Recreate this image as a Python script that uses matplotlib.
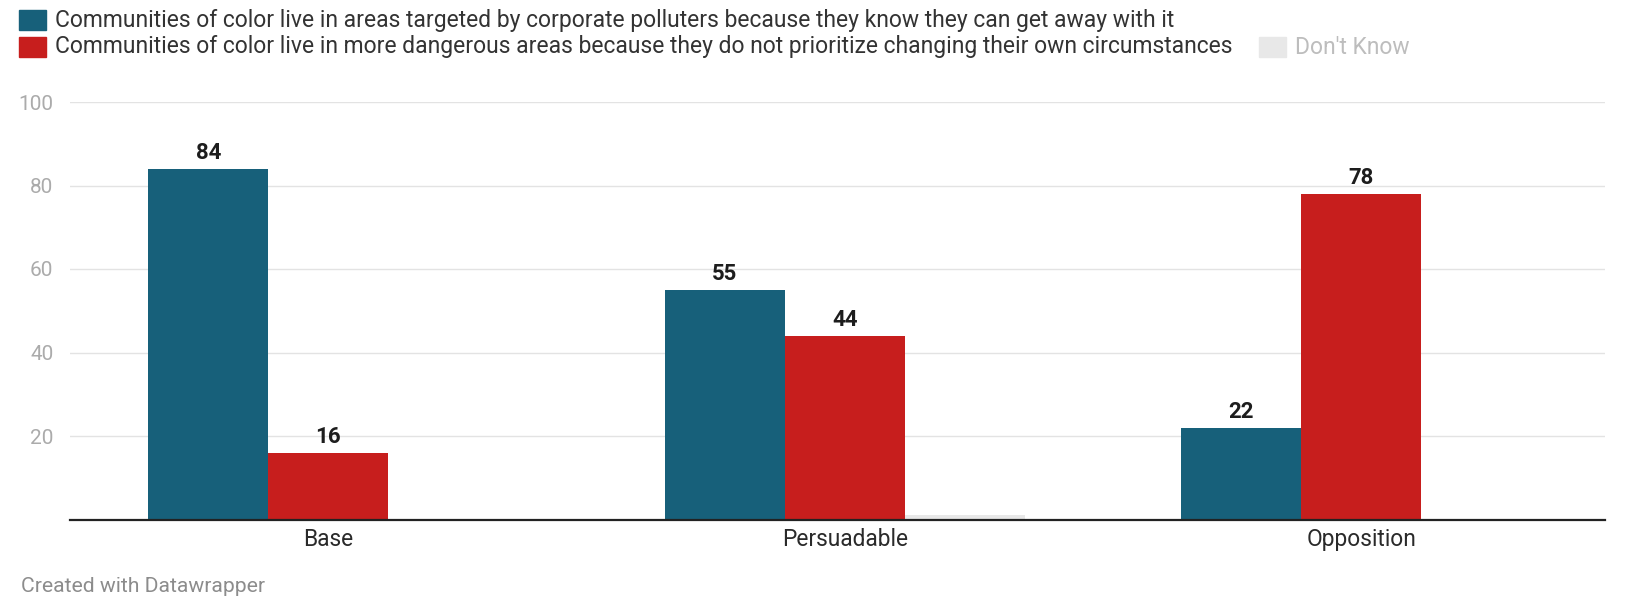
import matplotlib.pyplot as plt
import numpy as np
from matplotlib.patches import Rectangle

# Survey groups and the share picking each statement
groups = ["Base", "Persuadable", "Opposition"]
series_names = [
    "Communities of color live in areas targeted by corporate polluters because they know they can get away with it",
    "Communities of color live in more dangerous areas because they do not prioritize changing their own circumstances",
    "Don't Know",
]
targeted = [84, 55, 22]
dangerous = [16, 44, 78]
dont_know = [0, 1, 0]
y_ticks = [20, 40, 60, 80, 100]

colors = ["#17607a", "#c71e1d", "#e8e8e8"]

W, H = 1626, 599
plt.rcParams["font.family"] = ["Roboto", "DejaVu Sans"]

fig = plt.figure(figsize=(W / 100, H / 100), dpi=100)
ax = fig.add_axes([70 / W, 1 - 519.5 / H, (1605 - 70) / W, (519.5 - 102) / H])

x = np.arange(len(groups))
width = 0.2324
all_series = [targeted, dangerous, dont_know]
for i, (vals, col) in enumerate(zip(all_series, colors)):
    bars = ax.bar(x + (i - 1) * width, vals, width, color=col, zorder=2)
    labels = [str(v) if v > 1 else "" for v in vals]
    ax.bar_label(bars, labels=labels, padding=3.5, fontsize=16,
                 fontweight="bold", color="#1d1d1d")

ax.set_xlim(-0.5, 2.472)
ax.set_ylim(0, 100)
ax.set_yticks(y_ticks)
ax.set_yticklabels([str(t) for t in y_ticks], color="#ababab", fontsize=15)
ax.yaxis.grid(True, color="#e3e3e3", linewidth=1, zorder=0)
ax.tick_params(axis="y", length=0, pad=12)
ax.set_xticks(x)
ax.set_xticklabels(groups, fontsize=16.4, color="#2a2a2a")
ax.tick_params(axis="x", length=0, pad=6)
for side in ["top", "right", "left"]:
    ax.spines[side].set_visible(False)
ax.spines["bottom"].set_color("#222222")
ax.spines["bottom"].set_linewidth(1.6)
ax.spines["bottom"].set_zorder(3)

# legend drawn by hand along the top
def legend_item(x0, yc, color, text, text_color):
    fig.add_artist(Rectangle((x0 / W, 1 - (yc + 10) / H), 27 / W, 20 / H,
                             transform=fig.transFigure, color=color))
    fig.text((x0 + 36) / W, 1 - yc / H, text, fontsize=16.5, color=text_color,
             va="center", ha="left")

legend_item(19, 20, colors[0], series_names[0], "#333333")
legend_item(19, 47, colors[1], series_names[1], "#333333")
legend_item(1259, 47, colors[2], series_names[2], "#bdbdbd")

fig.text(21 / W, 1 - 586 / H, "Created with Datawrapper", fontsize=15.2,
         color="#8c8c8c", va="center", ha="left")

fig.savefig("out.png", dpi=100)
